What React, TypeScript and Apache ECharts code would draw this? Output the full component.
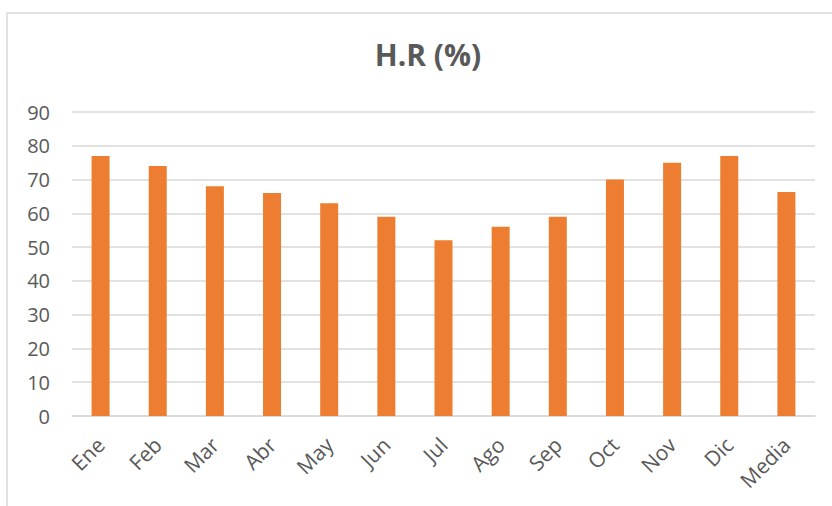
import React, { useEffect, useRef } from "react";
import * as echarts from "echarts";

const categories = ["Ene", "Feb", "Mar", "Abr", "May", "Jun", "Jul", "Ago", "Sep", "Oct", "Nov", "Dic", "Media"];
const values = [77, 74, 68, 66, 63, 59, 52, 56, 59, 70, 75, 77, 66.3];
const titleText = "H.R (%)";
const yMin = 0;
const yMax = 90;
const yInterval = 10;

export default function App() {
  const ref = useRef<HTMLDivElement>(null);
  useEffect(() => {
    if (!ref.current) return;
    const chart = echarts.init(ref.current, null, { renderer: "svg" });
    chart.setOption({
      animation: false,
      backgroundColor: "#ffffff",
      title: {
        text: titleText,
        left: 423,
        textAlign: "center",
        top: 34,
        textStyle: {
          fontFamily: "Open Sans",
          fontWeight: "bold",
          fontSize: 30,
          color: "#595959",
        },
      },
      graphic: [
        {
          type: "rect",
          shape: { x: 7, y: 13, width: 900, height: 600 },
          style: { fill: "none", stroke: "#D9D9D9", lineWidth: 1.5 },
          silent: true,
        },
      ],
      grid: { left: 72, right: 17, top: 112, bottom: 90 },
      xAxis: {
        type: "category",
        data: categories,
        axisLine: { show: true, lineStyle: { color: "#D9D9D9", width: 1.5 } },
        axisTick: { show: false },
        axisLabel: {
          rotate: 45,
          margin: 25,
          interval: 0,
          fontFamily: "Open Sans",
          fontSize: 21,
          color: "#595959",
        },
      },
      yAxis: {
        type: "value",
        min: yMin,
        max: yMax,
        interval: yInterval,
        axisLine: { show: false },
        axisTick: { show: false },
        splitLine: { lineStyle: { color: "#D9D9D9", width: 1.5 } },
        axisLabel: {
          margin: 22,
          fontFamily: "Open Sans",
          fontSize: 20,
          color: "#595959",
        },
      },
      series: [
        {
          type: "bar",
          data: values,
          barWidth: 18,
          itemStyle: { color: "#ED7D31" },
        },
      ],
    });
    return () => chart.dispose();
  }, []);
  return (
    <div style={{ position: "absolute", left: 0, top: 0, width: 832, height: 506 }}>
      <div ref={ref} style={{ width: 832, height: 506 }} />
    </div>
  );
}
